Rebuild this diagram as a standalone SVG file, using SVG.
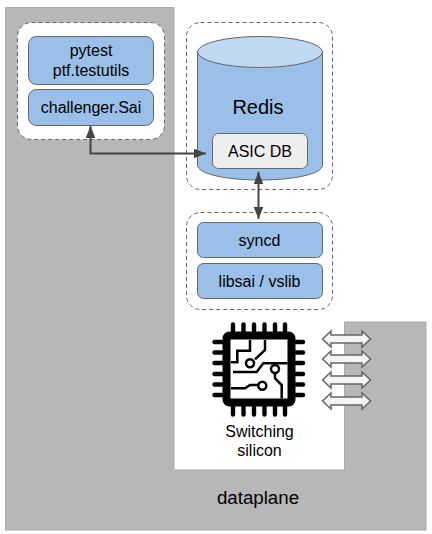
<svg xmlns="http://www.w3.org/2000/svg" width="432" height="534" viewBox="0 0 432 534">
<style>
text{font-family:"Liberation Sans",Arial,sans-serif;fill:#000;text-anchor:middle}
.t16{font-size:16px}.t20{font-size:20px}.t18{font-size:18.7px}
.dash{fill:#fff;stroke:#666;stroke-width:1;stroke-dasharray:4 3}
.dashn{fill:none;stroke:#666;stroke-width:1;stroke-dasharray:4 3}
.box{fill:#9ac0e9;stroke:#666;stroke-width:1}
.conn{fill:none;stroke:#444;stroke-width:2}
.port{fill:#f4f4f4;stroke:#666;stroke-width:1.500}
.pin{stroke:#000;stroke-width:4.400;stroke-linecap:round;fill:none}
.tr{stroke:#000;stroke-width:2.500;fill:none}
.dot{stroke:#000;stroke-width:2.500;fill:#fff}
</style>
<defs>
<marker id="a" markerUnits="userSpaceOnUse" markerWidth="13" markerHeight="11" refX="12" refY="5" orient="auto-start-reverse"><path d="M0 0.200L12 5L0 9.800Z" fill="#444"/></marker>
</defs>
<g id="dataplane">
<path d="M5.500 7.500H174V470H344.500V322H426V530H5.500Z" fill="#b7b7b7" stroke="#a9a9a9"/>
<text class="t18" x="258" y="504">dataplane</text>
</g>
<g id="test-group">
<rect class="dash" x="17.500" y="22.500" width="147" height="117" rx="14"/>
</g>
<g id="pytest">
<rect class="box" x="28.500" y="36.500" width="125" height="48" rx="8"/>
<text class="t16" x="91" y="56">pytest</text><text class="t16" x="91" y="76">ptf.testutils</text>
</g>
<g id="challenger">
<rect class="box" x="28.500" y="89.500" width="125" height="36" rx="8"/>
<text class="t16" x="91" y="113">challenger.Sai</text>
</g>
<g id="redis-group">
<rect class="dashn" x="186.500" y="22.500" width="146" height="167" rx="14"/>
</g>
<g id="redis">
<path d="M197.500 52V165C197.500 174 226 180 260 180S322.500 174 322.500 165V52Z" fill="#9ac0e9" stroke="#666"/>
<ellipse cx="260" cy="52" rx="62.500" ry="15.500" fill="#c0d8f2" stroke="#666"/>
<text class="t20" x="258" y="114">Redis</text>
</g>
<g id="asic-db">
<rect x="212.500" y="133.500" width="95" height="35" rx="6" fill="#eee" stroke="#666"/>
<text class="t16" x="260" y="157">ASIC DB</text>
</g>
<g id="sync-group">
<rect class="dashn" x="186.500" y="212.500" width="146" height="97" rx="14"/>
</g>
<g id="syncd">
<rect class="box" x="197.500" y="222.500" width="125" height="35" rx="6"/>
<text class="t16" x="259.500" y="246">syncd</text>
</g>
<g id="libsai">
<rect class="box" x="197.500" y="263.500" width="125" height="35" rx="6"/>
<text class="t16" x="259.500" y="287">libsai / vslib</text>
</g>
<g id="silicon">
<rect x="226.500" y="335.500" width="65" height="67" rx="3" fill="#fff" stroke="#000" stroke-width="8"/>
<path class="pin" d="M233 324.500V331M243.500 324.500V331M254 324.500V331M264.500 324.500V331M275 324.500V331M285 324.500V331M233 406V414.500M243.500 406V414.500M254 406V414.500M264.500 406V414.500M275 406V414.500M285 406V414.500M214.500 342H222M214.500 352.500H222M214.500 363H222M214.500 374H222M214.500 384.500H222M214.500 395H222M296 342H303M296 352.500H303M296 363H303M296 374H303M296 384.500H303M296 395H303"/>
<path class="tr" d="M231 362.300H237.300V350.700H250V340"/>
<path class="tr" d="M255 359.300L265 350V340"/>
<path class="tr" d="M233 372H256.700L263.300 363.300H287.500"/>
<path class="tr" d="M275 373V378.300L281.700 385V398.500"/>
<path class="tr" d="M258 385H250L245 388.300H231"/>
<circle cx="250" cy="363.300" r="4" class="dot"/>
<circle cx="275" cy="369" r="4" class="dot"/>
<circle cx="262.300" cy="385.700" r="4" class="dot"/>
<text class="t16" x="259.500" y="437">Switching</text>
<text class="t16" x="259.500" y="456">silicon</text>
</g>
<g id="ports">
<path class="port" d="M322.500 339L331 331V335H362V331L370.500 339L362 347V343H331V347Z"/>
<path class="port" d="M322.500 359L331 351V355H362V351L370.500 359L362 367V363H331V367Z"/>
<path class="port" d="M322.500 380L331 372V376H362V372L370.500 380L362 388V384H331V388Z"/>
<path class="port" d="M322.500 401L331 393V397H362V393L370.500 401L362 409V405H331V409Z"/>
</g>
<g id="connectors">
<path class="conn" d="M90.500 126V153.500H206" marker-start="url(#a)" marker-end="url(#a)"/>
<path class="conn" d="M258.500 172V219" marker-start="url(#a)" marker-end="url(#a)"/>
</g>
</svg>
